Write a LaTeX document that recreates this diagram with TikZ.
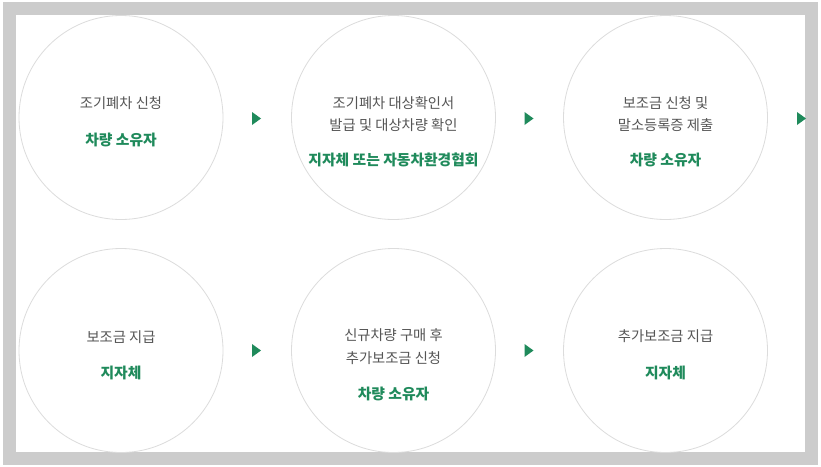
\documentclass[tikz,border=0pt]{standalone}
\usepackage{fontspec}
\setmainfont{Noto Sans CJK KR}
\definecolor{bordergray}{HTML}{CCCCCC}
\definecolor{circleline}{HTML}{DCDCDC}
\definecolor{txtgray}{HTML}{555555}
\definecolor{kgreen}{HTML}{1F8A5B}
\begin{document}
\begin{tikzpicture}[x=1pt,y=-1pt,
  stepcircle/.style={circle, draw=circleline, line width=0.8pt, minimum size=204pt, inner sep=0pt},
  graytext/.style={text=txtgray, font=\fontsize{14.3}{16}\selectfont, anchor=base, inner sep=0pt},
  greentext/.style={text=kgreen, font=\bfseries\fontsize{14.8}{16}\selectfont, anchor=base, inner sep=0pt},
  arrowtri/.style={fill=kgreen}
  ]
\useasboundingbox (0,0) rectangle (821,466);
\fill[bordergray] (3,2) rectangle (818,465);
\fill[white] (16,15) rectangle (805,452);

% circles
\node[stepcircle] (c1) at (121,117.5) {};
\node[stepcircle] (c2) at (393.5,117.5) {};
\node[stepcircle] (c3) at (665.5,117.5) {};
\node[stepcircle] (c4) at (121,350.5) {};
\node[stepcircle] (c5) at (393.5,350.5) {};
\node[stepcircle] (c6) at (665.5,350.5) {};

% texts
\node[graytext] (t1a) at (121,108.5) {조기폐차 신청};
\node[greentext] (t1b) at (121,145.5) {차량 소유자};

\node[graytext] (t2a) at (393.5,108.5) {조기폐차 대상확인서};
\node[graytext] (t2b) at (393.5,130.5) {발급 및 대상차량 확인};
\node[greentext] (t2c) at (393.5,165.5) {지자체 또는 자동차환경협회};

\node[graytext] (t3a) at (665.5,108.5) {보조금 신청 및};
\node[graytext] (t3b) at (665.5,130.5) {말소등록증 제출};
\node[greentext] (t3c) at (665.5,165.5) {차량 소유자};

\node[graytext] (t4a) at (121,342.5) {보조금 지급};
\node[greentext] (t4b) at (121,378.5) {지자체};

\node[graytext] (t5a) at (393.5,340.5) {신규차량 구매 후};
\node[graytext] (t5b) at (393.5,363.5) {추가보조금 신청};
\node[greentext] (t5c) at (393.5,399.5) {차량 소유자};

\node[graytext] (t6a) at (665.5,341.5) {추가보조금 지급};
\node[greentext] (t6b) at (665.5,378.5) {지자체};

% arrow triangles
\coordinate (a1) at (252,112);
\coordinate (a2) at (524.5,112);
\coordinate (a3) at (797,112);
\coordinate (a4) at (252,344);
\coordinate (a5) at (524.5,344);
\foreach \a in {a1,a2,a3,a4,a5}
  \fill[arrowtri] (\a) -- ++(9,6.5) -- ++(-9,6.5) -- cycle;
\end{tikzpicture}
\end{document}
